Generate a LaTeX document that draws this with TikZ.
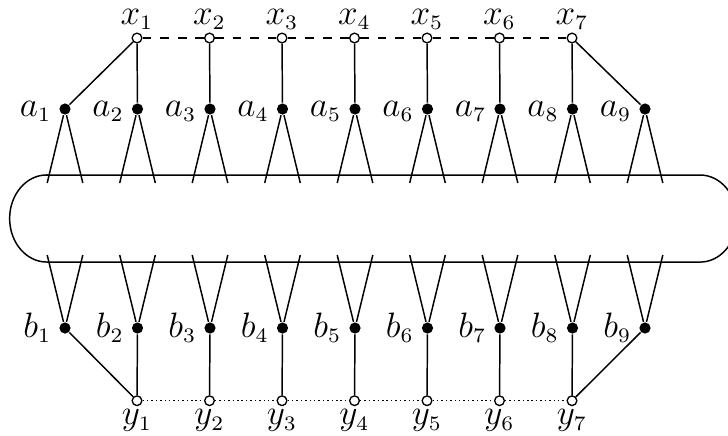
\documentclass[tikz,border=0pt]{standalone}
\DeclareMathSizes{11.5}{11.5}{6.6}{5}
\begin{document}
\begin{tikzpicture}[x=0.34pt,y=-0.34pt,
  open/.style={circle,draw,fill=white,inner sep=0pt,minimum size=3.3pt,line width=0.45pt},
  dot/.style={circle,fill=black,inner sep=0pt,minimum size=3.8pt},
  lbl/.style={inner sep=0pt,font=\fontsize{11.5}{14}\selectfont},
  every path/.style={line width=0.5pt}]
\useasboundingbox (0,0) rectangle (728,435);
% pill
\draw (46.7,175) -- (700,175)
  arc[start angle=90,end angle=-90,x radius=12.6pt,y radius=14.8pt]
  -- (46.7,262)
  arc[start angle=270,end angle=90,x radius=12.6pt,y radius=14.8pt] -- cycle;
% a and b nodes
\foreach \i in {1,...,9}{
  \pgfmathsetmacro\X{65+72.5*(\i-1)}
  \node[dot] (a\i) at (\X,109) {};
  \node[dot] (b\i) at (\X,328) {};
  \node[lbl,anchor=base east] (la\i) at (\X-13,116.5) {$a_{\i}$};
  \node[lbl,anchor=base east] (lb\i) at (\X-13,337) {$b_{\i}$};
  \coordinate (al\i) at (\X-17.8,183);
  \coordinate (ar\i) at (\X+17.8,183);
  \coordinate (bl\i) at (\X-17.8,255);
  \coordinate (br\i) at (\X+17.8,255);
  \draw (al\i) -- (a\i) -- (ar\i);
  \draw (bl\i) -- (b\i) -- (br\i);
}
% x and y nodes
\foreach \j in {1,...,7}{
  \pgfmathsetmacro\X{137+72.5*(\j-1)}
  \node[open] (x\j) at (\X,38) {};
  \node[open] (y\j) at (\X,400.7) {};
  \node[lbl,anchor=base] (lx\j) at (\X,24.5) {$x_{\j}$};
  \node[lbl,anchor=base] (ly\j) at (\X,424.7) {$y_{\j}$};
}
\foreach \j in {1,...,7}{
  \pgfmathtruncatemacro\k{\j+1}
  \draw (x\j) -- (a\k);
  \draw (y\j) -- (b\k);
}
\draw (x1) -- (a1);
\draw (x7) -- (a9);
\draw (y1) -- (b1);
\draw (y7) -- (b9);
\foreach \j in {1,...,6}{
  \pgfmathtruncatemacro\k{\j+1}
  \draw[dashed] (x\j) -- (x\k);
  \draw[densely dotted] (y\j) -- (y\k);
}
\end{tikzpicture}
\end{document}
